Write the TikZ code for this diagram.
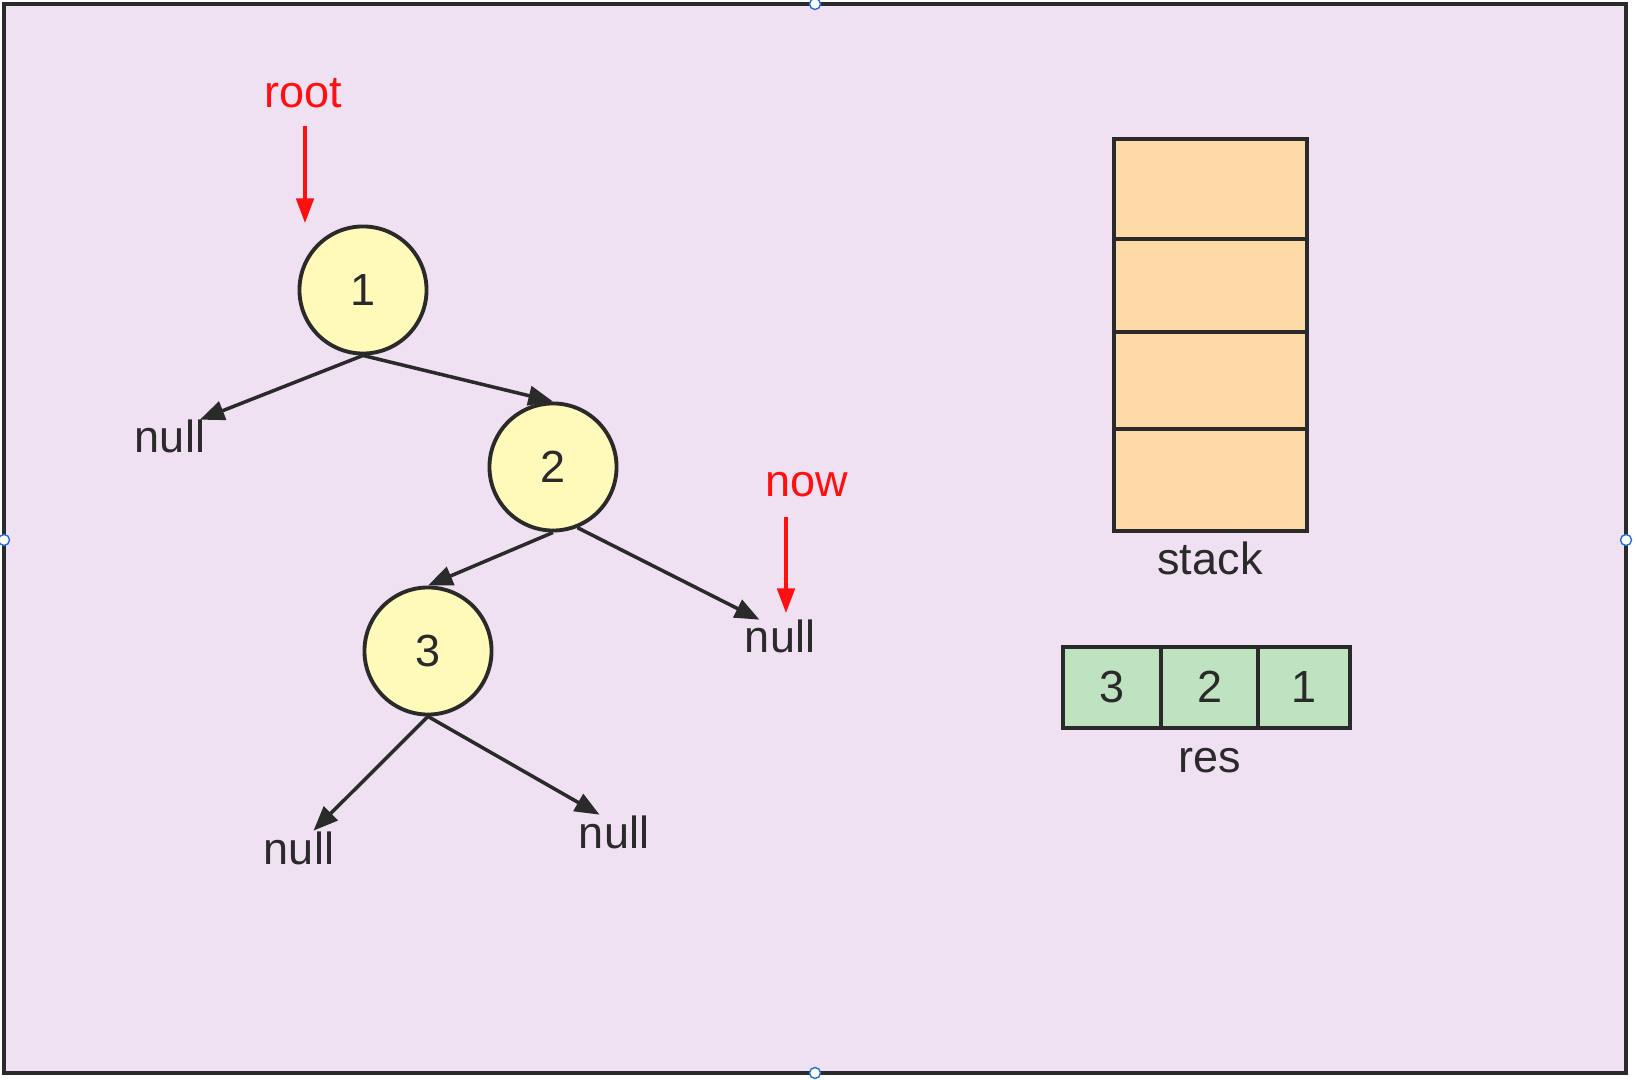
\documentclass[tikz,border=0pt]{standalone}
\usepackage{fontspec}
\setmainfont{Liberation Sans}
\usepackage{tikz}
\usetikzlibrary{arrows.meta}
\definecolor{FrameLilac}{HTML}{EFE0F2}
\definecolor{NodeYellow}{HTML}{FFFAB9}
\definecolor{StackOrange}{HTML}{FDDAA5}
\definecolor{ResGreen}{HTML}{BFE3C1}
\definecolor{InkGray}{HTML}{2A2A2A}
\definecolor{PointerRed}{HTML}{FF1010}
\definecolor{HandleBlue}{HTML}{1F6FE0}

\begin{document}
\begin{tikzpicture}[x=0.01cm,y=-0.01cm,
   font=\fontsize{12.8}{15}\selectfont,text=InkGray,
   treenode/.style={circle,draw=InkGray,line width=1.1pt,fill=NodeYellow,minimum size=1.27cm,inner sep=0pt},
   leaf/.style={inner sep=0pt,anchor=base},
   cell/.style={draw=InkGray,line width=1.1pt},
   edge/.style={draw=InkGray,line width=1pt,-{Triangle[length=7pt,width=5.5pt]}},
   pointer/.style={draw=PointerRed,line width=0.9pt,-{Triangle[length=7pt,width=5pt]}}]
   \useasboundingbox (0,0) rectangle (1637,1080);
   \fill[white] (0,0) rectangle (1637,1080);
   \draw[fill=FrameLilac,draw=InkGray,line width=1.1pt] (4,4) rectangle (1626,1073);
   \foreach \p in {(815,4),(815,1073),(4,540),(1626,540)} {
    \draw[HandleBlue,fill=white,line width=0.4pt] \p circle[radius=0.055cm];
   }

   % tree
   \node[treenode] (n1) at (363,290) {1};
   \node[treenode] (n2) at (553,467) {2};
   \node[treenode] (n3) at (428,651) {3};
   \node[leaf] (nl1) at (170,453) {null};
   \node[leaf] (nr2) at (780,653) {null};
   \node[leaf] (nl3) at (299,864) {null};
   \node[leaf] (nr3) at (614,848) {null};
   \draw[edge] (n1.south) -- (nl1.30);
   \draw[edge] (n1.south) -- (n2.north);
   \draw[edge] (n2.south) -- (n3.north);
   \draw[edge] (n2.-68) -- (nr2.140);
   \draw[edge] (n3.south) -- (nl3.50);
   \draw[edge] (n3.south) -- (nr3.130);

   % pointers
   \node[leaf,text=PointerRed] (root) at (303,108) {root};
   \node[leaf,text=PointerRed] (now) at (807,497) {now};
   \coordinate (rootTip) at (305,223);
   \coordinate (nowTip) at (786,613);
   \draw[pointer,shorten <=0.17cm] (root.south -| rootTip) -- (rootTip);
   \draw[pointer,shorten <=0.19cm] (now.south -| nowTip) -- (nowTip);

   % stack and res
   \foreach \i/\top/\bot in {1/139/239,2/239/332,3/332/429,4/429/531} {
    \draw[cell,fill=StackOrange] (1114,\top) rectangle (1307,\bot);
   }
   \node[leaf] (stacklbl) at (1210,575) {stack};
   \foreach \l/\r/\v in {1063/1161/3,1161/1258/2,1258/1350/1} {
    \draw[cell,fill=ResGreen] (\l,647) rectangle (\r,728);
    \node (res\v) at ({(\l+\r)/2},687) {\v};
   }
   \node[leaf] (reslbl) at (1210,772) {res};
  \end{tikzpicture}
\end{document}
